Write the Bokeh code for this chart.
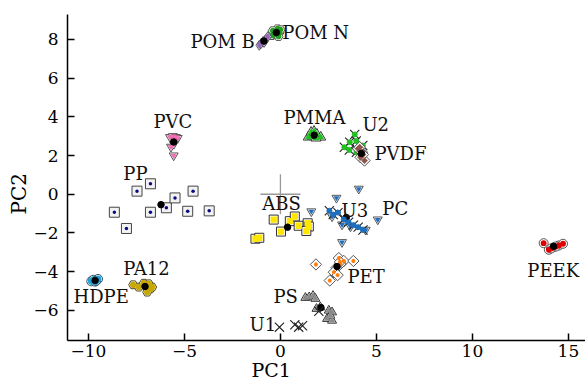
import numpy as np
from bokeh.plotting import figure
from bokeh.models import Range1d, FixedTicker, Title
from bokeh.core.properties import value
from bokeh.embed import file_html
from bokeh.resources import INLINE

# ---- data (PC1, PC2 scores) ----
pom_b_x = [-1.1, -1.0, -0.9, -0.8, -0.72, -0.65, -0.85]
pom_b_y = [7.7, 7.8, 7.9, 7.95, 8.05, 8.15, 7.85]
pom_n_x = [-0.45, -0.3, -0.15, -0.05, 0.0, -0.25, -0.4, -0.1]
pom_n_y = [8.2, 8.4, 8.55, 8.35, 8.5, 8.25, 8.45, 8.15]
pvc_x = [-5.75, -5.6, -5.45, -5.35, -5.7, -5.55, -5.5, -5.56]
pvc_y = [2.95, 3.0, 2.95, 2.9, 2.45, 2.6, 2.75, 2.0]
pmma_x = [1.45, 1.6, 1.75, 1.9, 2.1, 1.65, 1.85]
pmma_y = [2.95, 3.2, 3.25, 3.1, 2.95, 3.0, 2.9]
pp_x = [-8.65, -8.02, -7.47, -6.77, -6.77, -5.94, -5.49, -4.83, -4.55, -3.71]
pp_y = [-0.93, -1.77, 0.16, 0.54, -0.93, -0.70, -0.19, -0.88, 0.16, -0.86]
hdpe_x = [-9.85, -9.75, -9.65, -9.55, -9.5, -9.6]
hdpe_y = [-4.5, -4.42, -4.52, -4.42, -4.38, -4.48]
pa12_x = [-7.67, -7.38, -7.12, -6.86, -6.77, -6.94, -6.68, -7.0]
pa12_y = [-4.68, -4.8, -4.6, -4.63, -4.89, -5.06, -4.8, -4.7]
abs_x = [-1.3, -1.1, -0.35, 0.03, 0.49, 0.75, 0.95, 1.42, 1.48, 1.35]
abs_y = [-2.3, -2.25, -1.31, -1.93, -1.39, -1.15, -1.63, -1.5, -1.67, -1.9]
pc_x = [4.08, 2.92, 1.61, 5.07, 2.69, 3.21, 3.65, 4.44, 3.21]
pc_y = [0.28, -0.19, -0.89, -1.31, -1.15, -1.57, -1.67, -1.84, -2.48]
u3_x = [2.55, 2.75, 3.0, 3.3, 3.55, 3.8, 4.05, 4.3]
u3_y = [-0.85, -1.05, -0.95, -1.3, -1.45, -1.6, -1.7, -1.85]
u2_x = [3.87, 3.61, 3.33, 3.59, 4.29, 3.96, 3.95]
u2_y = [3.09, 2.69, 2.43, 2.29, 2.52, 2.17, 2.75]
pvdf_x = [4.05, 4.13, 4.25, 4.17, 4.38, 4.3]
pvdf_y = [2.35, 2.43, 2.17, 1.91, 1.74, 2.05]
pet_x = [1.85, 3.04, 3.3, 3.8, 3.13, 2.92, 2.78, 2.98, 2.57, 3.1]
pet_y = [-3.63, -3.3, -3.45, -3.45, -3.6, -3.8, -4.03, -4.18, -4.46, -3.5]
ps_x = [1.3, 1.5, 1.7, 1.82, 1.88, 2.08, 2.52, 2.69, 2.43, 2.69, 2.6]
ps_y = [-5.35, -5.32, -5.25, -5.4, -5.92, -5.84, -6.01, -6.1, -6.44, -6.53, -6.27]
u1_x = [-0.05, 0.75, 0.95, 1.15, 2.0]
u1_y = [-6.87, -6.75, -6.87, -6.8, -6.05]
peek_x = [13.71, 13.98, 14.24, 14.5, 14.72, 14.1, 14.35]
peek_y = [-2.53, -2.87, -2.74, -2.65, -2.56, -2.8, -2.7]
origin_x = [0.0]
origin_y = [0.0]

label_names = ["POM B", "POM N", "PVC", "PMMA", "U2", "PVDF", "PP", "ABS",
               "U3", "PC", "PEEK", "PA12", "HDPE", "PET", "PS", "U1"]
label_x = [-4.69, 0.1, -6.61, 0.16, 4.27, 4.9, -8.18, -0.94,
           3.18, 5.31, 12.86, -8.18, -10.78, 3.49, -0.36, -1.61]
label_y = [7.89, 8.36, 3.76, 3.96, 3.6, 2.1, 1.07, -0.48,
           -0.84, -0.74, -3.94, -3.84, -5.29, -4.25, -5.29, -6.74]

x_ticks = [-10, -5, 0, 5, 10, 15]
y_ticks = [-6, -4, -2, 0, 2, 4, 6, 8]
x_title = "PC1"
y_title = "PC2"

FONT = "DejaVu Serif"

p = figure(frame_width=518, frame_height=326, output_backend="svg",
           toolbar_location=None,
           x_range=Range1d(-11.09, 15.89), y_range=Range1d(-7.56, 9.29),
           min_border_left=67, min_border_right=0, min_border_top=14,
           min_border_bottom=44)
p.outline_line_color = None
p.xgrid.visible = False
p.ygrid.visible = False
p.background_fill_color = "white"
p.border_fill_color = "white"

for ax, ticks in ((p.xaxis[0], x_ticks), (p.yaxis[0], y_ticks)):
    ax.ticker = FixedTicker(ticks=ticks)
    ax.major_label_overrides = {t: str(t).replace("-", "\u2212") for t in ticks}
    ax.major_tick_in = 7
    ax.major_tick_out = 0
    ax.minor_tick_in = 0
    ax.minor_tick_out = 0
    ax.axis_line_width = 1.5
    ax.major_tick_line_width = 1.5
    ax.axis_line_color = "black"
    ax.major_label_text_font = FONT
    ax.major_label_text_font_size = "17px"
    ax.major_label_text_color = "black"

p.xaxis.major_label_standoff = 4
p.yaxis.major_label_standoff = 9

# axis titles, offset to where the reference has them
p.add_layout(Title(text=x_title, align="left", offset=184, standoff=-5,
                   text_font=FONT, text_font_size="19px",
                   text_font_style="normal", text_color="black"), "below")
p.add_layout(Title(text=y_title, align="left", offset=126, standoff=0,
                   text_font=FONT, text_font_size="20px",
                   text_font_style="normal", text_color="black"), "left")

# big grey cross at the origin
p.scatter(origin_x, origin_y, marker="cross", size=40, line_color="#999999",
          line_width=1.3)


def group(xs, ys, marker, color, size=8, inner=0.7, inner_marker=None,
          edge="#555555", bg="white", angle=0.0, mean=True):
    p.scatter(xs, ys, marker=marker, size=size, fill_color=bg, angle=angle,
              line_color=edge, line_width=1)
    p.scatter(xs, ys, marker=inner_marker or marker, size=size * inner,
              angle=angle, fill_color=color, line_color=None)
    if mean:
        p.scatter([float(np.mean(xs))], [float(np.mean(ys))], marker="circle",
                  size=6.5, fill_color="black", line_color="black")


def unknown(xs, ys, dot=None):
    p.scatter(xs, ys, marker="x", size=13, line_color="#222222", line_width=1.1)
    if dot:
        p.scatter(xs, ys, marker="circle", size=5, fill_color=dot, line_color=dot)


Q = np.pi / 4
group(pp_x, pp_y, "square", "#0a0a80", size=10, inner=0.35, inner_marker="circle",
      edge="#444444", bg="#f2f2f2")
group(pvc_x, pvc_y, "inverted_triangle", "#f06eb4", size=9, inner=0.7)
group(pom_n_x, pom_n_y, "hex", "#1f9e1f", size=9, inner=0.7)
group(pom_b_x, pom_b_y, "diamond", "#9467bd", size=10, inner=0.75)
group(pmma_x, pmma_y, "triangle", "#22c022", size=10, inner=0.7, edge="#333333")
group(hdpe_x, hdpe_y, "circle", "#1fa2d6", size=9, inner=0.75, edge="#2f4f5f")
group(pa12_x, pa12_y, "hex", "#c8a800", size=9, inner=0.8, edge="#4a4a20")
group(abs_x, abs_y, "square", "#ffe600", size=9, inner=0.7, edge="#333333")
group(pc_x, pc_y, "inverted_triangle", "#1f6fbf", size=9, inner=0.65)
unknown(u3_x, u3_y, "#1f6fbf")
unknown(u2_x, u2_y, "#22c022")
group(pvdf_x, pvdf_y, "square", "#8c564b", size=8, inner=0.6, angle=Q)
group(pet_x, pet_y, "square", "#ff7f0e", size=8, inner=0.5, inner_marker="circle",
      angle=Q)
group(ps_x, ps_y, "triangle", "#8a8a8a", size=9, inner=0.75, edge="#333333")
group(peek_x, peek_y, "circle", "#e00000", size=9, inner=0.65)
unknown(u1_x, u1_y)

p.text(label_x, label_y, text=label_names, text_font=value(FONT),
       text_font_size="18px", text_align="left", text_baseline="middle",
       text_color="#111111")

open("out.html", "w").write(file_html(p, INLINE))
